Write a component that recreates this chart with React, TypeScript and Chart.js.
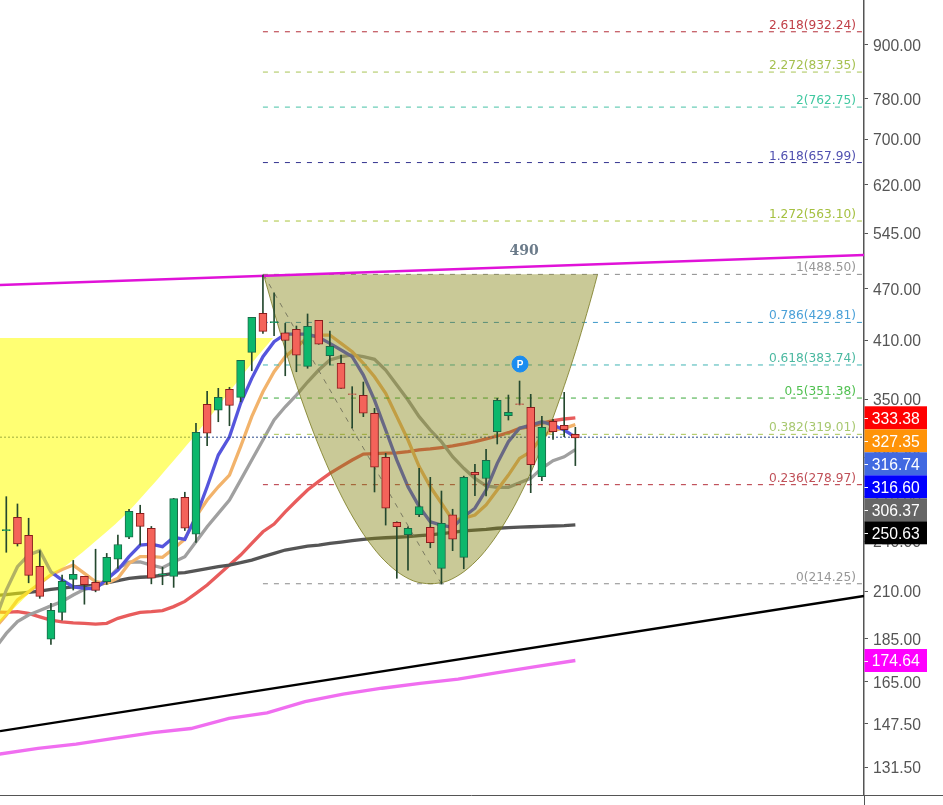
import React, { useEffect, useRef } from "react";
import { Chart, registerables } from "chart.js";

Chart.register(...registerables);

const yTicks = [900, 780, 700, 620, 545, 470, 410, 350, 300, 270, 240, 210, 185, 165, 147.5, 131.5];

const opens = [246.8,255.7,243.8,224.4,184.8,198.5,216.8,218.5,215.0,215.4,228.7,242.5,258.4,248.4,219.4,218.5,269.7,244.5,345.5,340.2,359.7,352.0,396.9,440.4,429.6,418.1,421.9,382.4,432.2,393.4,385.4,355.4,353.9,337.4,300.1,252.3,244.2,257.5,249.0,223.2,257.5,229.9,288.3,283.6,321.2,335.3,346.1,342.8,284.9,330.2,326.8,319.0];
const closes = [247.6,238.3,219.1,207.2,199.6,215.6,219.7,213.7,210.5,229.9,237.9,259.9,249.6,217.4,220.0,268.8,248.4,320.7,319.9,352.0,344.6,388.5,435.7,419.7,430.8,409.8,393.8,425.3,405.5,403.3,360.6,354.8,337.4,292.2,262.0,249.4,248.4,263.1,239.0,251.6,241.2,284.5,286.4,297.7,349.2,338.2,345.5,294.2,325.0,321.2,323.0,315.9];
const highs = [270.2,265.0,255.1,234.0,203.4,219.3,228.0,218.5,234.9,232.3,244.0,261.3,264.1,249.6,223.9,269.0,273.4,328.5,357.7,360.6,361.6,388.5,435.7,487.7,465.2,428.7,425.7,439.6,432.2,420.1,394.1,362.2,366.7,341.9,303.3,252.7,249.4,291.4,284.5,274.3,261.3,285.4,294.5,306.6,351.1,354.2,367.7,354.9,334.7,332.1,356.8,325.0];
const lows = [233.0,236.9,214.8,206.1,182.3,194.5,210.7,202.9,209.7,213.9,223.2,241.6,237.5,214.2,213.7,212.2,246.9,239.2,309.5,329.9,326.4,347.9,377.9,417.5,414.9,372.9,376.9,380.4,405.5,383.7,360.6,324.4,334.4,273.6,250.5,217.4,222.2,256.2,235.8,214.1,234.0,223.0,270.9,270.7,310.9,331.4,345.0,273.1,281.9,314.8,317.0,293.5];

// moving averages: the first value belongs to the candle just left of the frame
const maBlue = [194.5,210.7,224.2,231.3,234.0,221.2,216.4,212.5,211.6,211.4,216.8,222.2,230.3,237.5,238.1,236.5,242.5,241.2,256.2,277.4,301.9,316.9,346.5,370.3,392.3,408.3,416.7,416.7,416.7,413.1,406.5,399.4,392.3,373.6,349.5,322.7,297.9,277.4,263.1,252.7,250.5,249.0,256.2,262.0,275.0,295.3,312.8,324.2,327.0,329.9,327.0,322.7,316.6];
const maOrange = [190.5,197.1,205.2,209.7,214.5,219.3,222.6,225.2,220.3,215.4,214.5,217.4,226.2,230.3,230.3,229.9,235.4,241.2,256.2,267.8,277.4,286.2,308.7,334.4,357.3,376.9,392.3,402.2,413.1,415.6,415.6,406.5,397.6,385.4,371.9,355.8,334.4,314.2,292.7,277.4,265.5,253.9,255.1,257.3,264.3,275.0,286.2,299.2,304.6,316.9,322.7,324.2,327.35];
const maGray = [180.4,187.7,193.7,197.1,199.5,202.0,204.4,207.9,211.1,212.9,216.4,223.2,226.9,227.1,225.2,223.6,227.1,230.3,239.6,249.4,258.4,267.8,282.4,297.9,314.2,331.4,343.3,354.2,366.7,378.6,388.9,392.3,394.1,392.3,389.6,378.6,363.8,349.5,334.4,322.7,312.8,300.5,291.4,283.7,278.0,277.0,277.0,280.4,283.7,291.4,297.4,300.5,306.37];
const maRed = [198.7,198.5,198.9,198.0,196.2,194.5,193.6,193.1,192.8,192.4,192.8,195.4,197.1,198.5,198.9,199.5,201.6,204.4,208.8,213.5,219.3,225.2,231.3,238.6,246.1,251.2,259.5,267.3,275.0,281.4,287.5,292.7,297.9,302.7,303.1,303.5,303.7,304.6,306.0,306.8,308.0,309.3,310.9,312.8,315.1,317.6,320.4,324.2,325.6,328.6,330.8,332.3,333.38];
const maDark = [207.6,208.1,208.8,209.4,210.1,211.1,211.8,212.5,212.9,213.5,214.8,216.0,217.4,218.0,218.3,219.3,220.3,220.7,221.9,223.0,224.2,225.2,226.6,228.2,230.3,232.3,234.4,235.6,236.9,237.5,238.6,239.4,240.3,241.2,241.8,242.2,242.5,242.9,243.5,244.0,244.8,245.7,246.6,247.2,247.6,248.4,248.8,249.2,249.4,249.7,249.9,250.1,250.63];
const maPinkIdx = [-0.6,2.84,6.25,9.65,13.15,16.55,19.96,23.37,26.77,30.18,33.67,37.08,40.49,43.9,47.3,51];
const maPink = [136.1,138.2,139.8,141.9,144.1,145.7,149.7,151.9,156.5,159.7,162.2,164.3,166.2,169.0,171.7,174.64];

const fibLevels = ["2.618","2.272","2","1.618","1.272","1","0.786","0.618","0.5","0.382","0.236","0"];
const fibValues = [932.24,837.35,762.75,657.99,563.10,488.50,429.81,383.74,351.38,319.01,278.97,214.25];
const fibLineColors = ["#b5303a","#a9c455","#45c2a5","#33338f","#a9c43a","#8a8a8a","#3a97c9","#3fb3b3","#3aa83a","#a9c455","#b5303a","#8a8a8a"];
const fibTextColors = ["#c04048","#a5c050","#40c8a0","#5050b0","#a5c040","#969696","#4aa0d8","#4ab8a0","#50c050","#a8c870","#c05058","#969696"];

const cupIdx = [23.05,23.55,24.05,25.05,26.02,27.52,29.02,30.52,32.02,33.52,35.02,36.52,38.02,39.52,41.02,42.52,44.02,45.52,47.02,48.52,50.02,51.02,52.02,52.52,52.99];
const cupPrice = [488.5,463.6,439.9,398,363.4,320.9,288.3,263.3,244.4,230.6,221.3,215.8,214.25,215.8,221.3,230.6,244.4,263.3,288.3,320.9,363.4,398,439.9,463.6,488.5];
const yellowIdx = [-0.6,2.39,5.98,10.82,17.09,22.02,23.9];
const yellowPrice = [193.0,210.7,228.2,258.7,320.1,385.7,412.3];

const priceTags = [
  { v: "333.38", c: "#ff0000" },
  { v: "327.35", c: "#ff9308" },
  { v: "316.74", c: "#4169e1" },
  { v: "316.60", c: "#0000ff" },
  { v: "306.37", c: "#666666" },
  { v: "250.63", c: "#000000" },
];
const pinkTag = { v: "174.64", c: "#ff00ff" };

const GREEN = "#0cb76c", RED = "#f4635a", GREEN_B = "#1b6a48", RED_B = "#8a1c1c", WICK = "#24482e";
const X_MIN = -0.565, X_MAX = 76.87;
const ma = (arr: number[]) => arr.map((y, i) => ({ x: i - 1, y }));
const seg = (x0: number, y0: number, x1: number, y1: number) => [{ x: x0, y: y0 }, { x: x1, y: y1 }];
const line = (data: any[], color: string, width: number, extra: any = {}) => ({
  type: "line", data, borderColor: color, borderWidth: width, pointRadius: 0, fill: false, tension: 0, ...extra,
});

const overlay = {
  id: "overlay",
  afterDraw(chart: any) {
    const { ctx, scales } = chart;
    const x = scales.x, y = scales.y;
    ctx.save();
    ctx.textBaseline = "alphabetic";
    ctx.font = '12.2px "DejaVu Sans"';
    ctx.textAlign = "right";
    fibValues.forEach((v, i) => {
      ctx.fillStyle = fibTextColors[i];
      ctx.fillText(`${fibLevels[i]}(${v.toFixed(2)})`, 856, y.getPixelForValue(v) - 3);
    });
    ctx.textAlign = "center";
    ctx.font = 'bold 14px "DejaVu Serif"';
    ctx.fillStyle = "#6b7b8a";
    ctx.fillText("490", x.getPixelForValue(46.4), y.getPixelForValue(515));
    ctx.font = 'bold 10px "Liberation Sans"';
    ctx.fillStyle = "#ffffff";
    ctx.fillText("P", x.getPixelForValue(46.04), y.getPixelForValue(384.7) + 4);

    ctx.font = '15.7px "Liberation Sans"';
    ctx.textBaseline = "middle";
    const drawTag = (t: any, cy: number) => {
      ctx.fillStyle = t.c;
      ctx.fillRect(864.5, cy - 11.5, 62.5, 23);
      ctx.fillStyle = "#ffffff";
      ctx.fillRect(864.5, Math.round(cy), 3.5, 1);
      ctx.fillText(t.v, 895.7, cy + 1.5);
    };
    const top = y.getPixelForValue(333.38);
    priceTags.forEach((t, i) => drawTag(t, top + i * 23));
    drawTag(pinkTag, y.getPixelForValue(174.64));

    ctx.strokeStyle = "#555555";
    ctx.lineWidth = 1;
    ctx.beginPath();
    ctx.moveTo(0, 795.5);
    ctx.lineTo(943, 795.5);
    ctx.moveTo(864.5, 795.5);
    ctx.lineTo(864.5, 805);
    ctx.stroke();
    ctx.restore();
  },
};

export default function App() {
  const ref = useRef<HTMLCanvasElement | null>(null);
  useEffect(() => {
    const fibLines = fibValues.map((v, i) =>
      line(seg(23.0, v, X_MAX, v), fibLineColors[i], 1, { borderDash: [5, 6] })
    );
    const stack: any[] = [
      line(maPink.map((y, i) => ({ x: maPinkIdx[i], y })), "#f06ef0", 3.3),
      line(ma(maRed), "#e85c5c", 3.3),
      line(ma(maDark), "#555555", 3.3),
      line(ma(maGray), "#a0a0a0", 3.3),
      line(ma(maOrange), "#f2b36b", 3.3),
      line(ma(maBlue), "#5555dd", 3.3),
      ...fibLines,
      line(seg(X_MIN, 316.6, X_MAX, 316.6), "#2a4a8a", 1, { borderDash: [2, 2] }),
      line(yellowPrice.map((y, i) => ({ x: yellowIdx[i], y })), "rgba(0,0,0,0)", 0, {
        fill: { value: 412.3 }, backgroundColor: "rgba(255,255,0,0.55)", tension: 0.25,
      }),
      line(cupPrice.map((y, i) => ({ x: cupIdx[i], y })), "rgba(120,120,30,0.8)", 1, {
        fill: { value: 488.5 }, backgroundColor: "rgba(130,130,15,0.43)", tension: 0.3,
      }),
      line(seg(23.05, 488.5, 39, 214.25), "#7a7a60", 1, { borderDash: [5, 6] }),
      line(seg(X_MIN, 474.8, X_MAX, 514.3), "#e012d8", 2.4),
      line(seg(X_MIN, 144.7, X_MAX, 207.4), "#000000", 2.4),
      {
        type: "bar", grouped: false, barThickness: 1, backgroundColor: WICK, borderWidth: 0,
        data: highs.map((h, i) => ({ x: i, y: [lows[i], h] })),
      },
      {
        type: "bar", grouped: false, barThickness: 8, borderWidth: 1, borderSkipped: false,
        backgroundColor: opens.map((o, i) => (closes[i] >= o ? GREEN : RED)),
        borderColor: opens.map((o, i) => (closes[i] >= o ? GREEN_B : RED_B)),
        data: opens.map((o, i) => ({ x: i, y: [o, closes[i]] })),
      },
      {
        type: "line", showLine: false, data: [{ x: 46.04, y: 384.7 }],
        pointRadius: 8, pointBackgroundColor: "#1a8cf0", pointBorderColor: "#1a8cf0",
      },
    ];
    const datasets = stack.map((d, i) => ({ ...d, order: stack.length - i }));
    const chart = new Chart(ref.current as HTMLCanvasElement, {
      type: "line",
      data: { datasets },
      plugins: [overlay],
      options: {
        animation: false,
        responsive: false,
        layout: { autoPadding: false, padding: { left: 0, top: 0, right: 0, bottom: 10 } },
        plugins: { legend: { display: false }, tooltip: { enabled: false } },
        scales: {
          x: { type: "linear", display: false, min: X_MIN, max: X_MAX, offset: false },
          y: {
            type: "logarithmic",
            position: "right",
            min: 122.05,
            max: 1014.6,
            afterBuildTicks: (s: any) => { s.ticks = yTicks.map((value) => ({ value })); },
            afterFit: (s: any) => { s.width = 79; s.paddingTop = 0; s.paddingBottom = 0; },
            border: { color: "#555555", width: 1.5 },
            grid: { drawOnChartArea: false, drawTicks: true, tickLength: 4, color: "#555555" },
            ticks: {
              autoSkip: false,
              padding: 5,
              labelOffset: 1.5,
              color: "#555555",
              maxRotation: 0,
              font: { family: '"Liberation Sans"', size: 15.7 },
              callback: (v: any) => Number(v).toFixed(2),
            },
          },
        },
      },
    } as any);
    return () => chart.destroy();
  }, []);
  return (
    <div style={{ position: "fixed", left: 0, top: 0, width: 943, height: 805, background: "#ffffff" }}>
      <canvas ref={ref} width={943} height={805} style={{ display: "block" }} />
    </div>
  );
}
